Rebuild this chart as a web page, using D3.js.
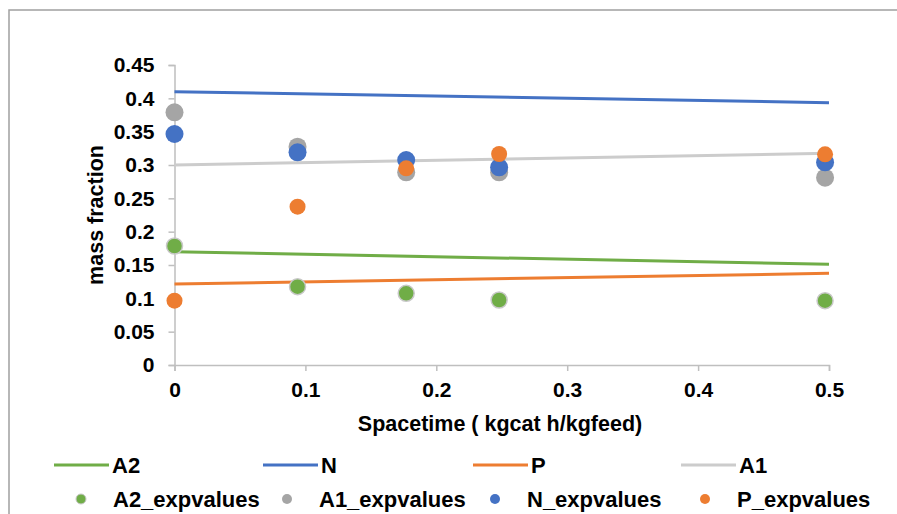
<!DOCTYPE html>
<html>
<head>
<meta charset="utf-8">
<script src="https://cdn.jsdelivr.net/npm/d3@7"></script>
<style>
  body { margin: 0; background: #fff; }
  text { font-family: Arial, "Liberation Sans", sans-serif; font-weight: bold; fill: #000; }
</style>
</head>
<body>
<svg id="chart" width="897" height="514"></svg>
<script>
// model lines (start / end of spacetime range)
var lineX = [0, 0.5];
var a2Line = [0.170, 0.151];
var nLine = [0.410, 0.3935];
var pLine = [0.1215, 0.1375];
var a1Line = [0.300, 0.3175];

// experimental points
var expX = [0, 0.094, 0.177, 0.248, 0.497];
var a2Exp = [0.1785, 0.1175, 0.1075, 0.0975, 0.0965];
var a1Exp = [0.379, 0.3275, 0.289, 0.289, 0.281];
var nExp = [0.3465, 0.319, 0.3075, 0.2965, 0.304];
var pExp = [0.0965, 0.2375, 0.295, 0.3165, 0.316];

var xTicks = [0, 0.1, 0.2, 0.3, 0.4, 0.5];
var yTicks = [0, 0.05, 0.1, 0.15, 0.2, 0.25, 0.3, 0.35, 0.4, 0.45];

var svg = d3.select("#chart");

// outer frame (cut off at right/bottom in the original)
svg.append("rect")
  .attr("x", 9).attr("y", 10).attr("width", 900).attr("height", 520)
  .attr("fill", "none").attr("stroke", "#a0a0a0").attr("stroke-width", 1.5);

var x = d3.scaleLinear().domain([0, 0.5]).range([174.5, 829]);
var y = d3.scaleLinear().domain([0, 0.45]).range([365, 65]);

function styleTicks(g) {
  g.select(".domain").attr("stroke", "#bfbfbf").attr("stroke-width", 1.5);
  g.selectAll(".tick line").attr("stroke", "#bfbfbf").attr("stroke-width", 1.5);
  g.selectAll(".tick text")
    .style("font-size", "21px")
    .style("font-family", "Arial, 'Liberation Sans', sans-serif")
    .style("font-weight", "bold")
    .attr("fill", "#000");
}

// y axis
var yAxis = d3.axisLeft(y).tickValues(yTicks).tickSize(6).tickPadding(14)
  .tickFormat(function(d) { return d3.format("")(+d.toFixed(2)); });
var gy = svg.append("g").attr("transform", "translate(" + x(0) + ",0)").call(yAxis);
styleTicks(gy);

// x axis
var xAxis = d3.axisBottom(x).tickValues(xTicks).tickSize(6).tickPadding(11)
  .tickFormat(function(d) { return d3.format("")(+d.toFixed(1)); });
var gx = svg.append("g").attr("transform", "translate(0," + y(0) + ")").call(xAxis);
styleTicks(gx);

// axis titles
svg.append("text")
  .attr("x", 500).attr("y", 424)
  .attr("text-anchor", "middle").attr("dominant-baseline", "central")
  .style("font-size", "21.5px")
  .text("Spacetime ( kgcat h/kgfeed)");

svg.append("text")
  .attr("transform", "translate(96," + 215 + ") rotate(-90)")
  .attr("text-anchor", "middle").attr("dominant-baseline", "central")
  .style("font-size", "21.5px")
  .text("mass fraction");

// model lines
var lines = [
  {name: "A2", vals: a2Line, color: "#70ad47"},
  {name: "N", vals: nLine, color: "#4472c4"},
  {name: "P", vals: pLine, color: "#ed7d31"},
  {name: "A1", vals: a1Line, color: "#cccccc"}
];
var lineGen = d3.line().x(function(d) { return x(d[0]); }).y(function(d) { return y(d[1]); });
lines.forEach(function(s) {
  svg.append("path")
    .datum(d3.zip(lineX, s.vals))
    .attr("d", lineGen)
    .attr("fill", "none")
    .attr("stroke", s.color)
    .attr("stroke-width", 3);
});

// experimental points
var points = [
  {name: "A2_expvalues", vals: a2Exp, color: "#70ad47", r: 8, stroke: "#c8c8c8"},
  {name: "A1_expvalues", vals: a1Exp, color: "#a5a5a5", r: 9, stroke: "none"},
  {name: "N_expvalues", vals: nExp, color: "#4472c4", r: 9, stroke: "none"},
  {name: "P_expvalues", vals: pExp, color: "#ed7d31", r: 8, stroke: "none"}
];
points.forEach(function(s) {
  svg.append("g").selectAll("circle")
    .data(d3.zip(expX, s.vals))
    .join("circle")
    .attr("cx", function(d) { return x(d[0]); })
    .attr("cy", function(d) { return y(d[1]); })
    .attr("r", s.r)
    .attr("fill", s.color)
    .attr("stroke", s.stroke)
    .attr("stroke-width", 1.5);
});

// legend
var legLineX = [54, 263, 473, 681];
var leg = svg.append("g");
lines.forEach(function(s, i) {
  leg.append("line")
    .attr("x1", legLineX[i]).attr("x2", legLineX[i] + 55)
    .attr("y1", 465).attr("y2", 465)
    .attr("stroke", s.color).attr("stroke-width", 3);
  leg.append("text")
    .attr("x", legLineX[i] + 58).attr("y", 465)
    .attr("dominant-baseline", "central")
    .style("font-size", "22px")
    .text(s.name);
});

var legPtX = [81, 287, 495, 705];
points.forEach(function(s, i) {
  leg.append("circle")
    .attr("cx", legPtX[i]).attr("cy", 499).attr("r", 5)
    .attr("fill", s.color)
    .attr("stroke", s.stroke).attr("stroke-width", 1);
  leg.append("text")
    .attr("x", legPtX[i] + 32).attr("y", 499)
    .attr("dominant-baseline", "central")
    .style("font-size", "22px")
    .text(s.name);
});
</script>
</body>
</html>
